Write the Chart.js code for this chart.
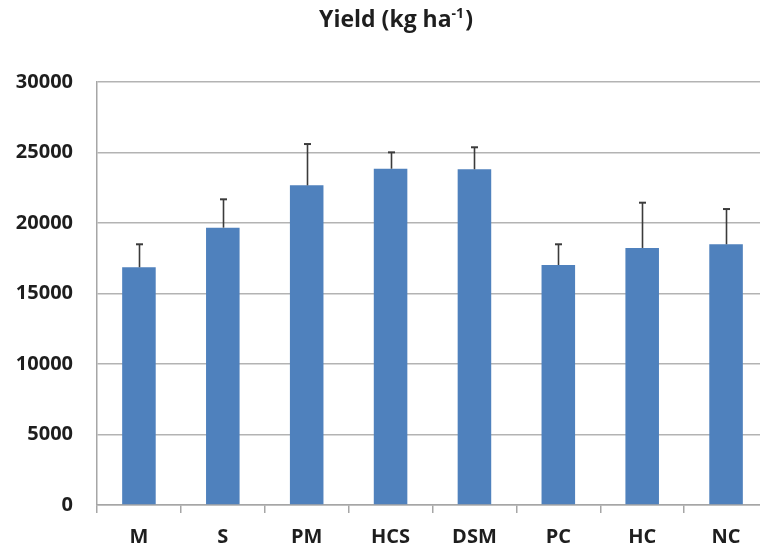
<!DOCTYPE html>
<html>
<head>
<meta charset="utf-8">
<script src="https://cdn.jsdelivr.net/npm/chart.js@4/dist/chart.umd.min.js"></script>
<style>
  html, body { margin: 0; padding: 0; background: #ffffff; overflow: hidden; }
  #wrap { width: 760px; height: 548px; overflow: hidden; position: relative; }
  canvas { display: block; }
</style>
</head>
<body>
<div id="wrap"><canvas id="chart" width="772" height="548"></canvas></div>
<script>
// Treatments and mean yield (kg/ha) with the upper standard deviation
const categories = ['M', 'S', 'PM', 'HCS', 'DSM', 'PC', 'HC', 'NC'];
const yields = [16860, 19670, 22670, 23850, 23810, 17020, 18230, 18490];
const errors = [1630, 2010, 2930, 1160, 1560, 1470, 3210, 2500];
const yTicks = [0, 5000, 10000, 15000, 20000, 25000, 30000];

const FONT = "'Open Sans', 'Liberation Sans', sans-serif";
const TEXT = '#1e1e1e';
const GRID = '#b3b3b3';
const AXIS = '#a6a6a6';

// Title with a superscript exponent
const titlePlugin = {
  id: 'yieldTitle',
  afterDraw(chart) {
    const ctx = chart.ctx;
    const main = 'Yield (kg ha';
    const sup = '-1';
    const tail = ')';
    const big = 'bold 23px ' + FONT;
    const small = 'bold 14px ' + FONT;
    ctx.save();
    ctx.fillStyle = TEXT;
    ctx.textBaseline = 'alphabetic';
    ctx.font = big;
    const w1 = ctx.measureText(main).width;
    const w3 = ctx.measureText(tail).width;
    ctx.font = small;
    const w2 = ctx.measureText(sup).width;
    const total = w1 + w2 + w3 + 1;
    let x = 396 - total / 2;
    const base = 27;
    ctx.textAlign = 'left';
    ctx.font = big;
    ctx.fillText(main, x, base);
    x += w1;
    ctx.font = small;
    ctx.fillText(sup, x, base - 9);
    x += w2 + 1;
    ctx.font = big;
    ctx.fillText(tail, x, base);
    ctx.restore();
  }
};

// Upward error bars with a small cap
const errorBarPlugin = {
  id: 'errorBars',
  afterDatasetsDraw(chart) {
    const ctx = chart.ctx;
    const meta = chart.getDatasetMeta(0);
    const yScale = chart.scales.y;
    ctx.save();
    ctx.strokeStyle = '#3b3b3b';
    meta.data.forEach((bar, i) => {
      const x = Math.round(bar.x) + 0.5;
      const yTop = yScale.getPixelForValue(yields[i] + errors[i]);
      ctx.lineWidth = 1.6;
      ctx.beginPath();
      ctx.moveTo(x, bar.y);
      ctx.lineTo(x, yTop);
      ctx.stroke();
      ctx.lineWidth = 2;
      ctx.beginPath();
      ctx.moveTo(x - 3.5, yTop);
      ctx.lineTo(x + 3.5, yTop);
      ctx.stroke();
    });
    ctx.restore();
  }
};

new Chart(document.getElementById('chart'), {
  type: 'bar',
  data: {
    labels: categories,
    datasets: [{
      data: yields,
      backgroundColor: '#4f81bd',
      borderWidth: 0,
      barPercentage: 0.4,
      categoryPercentage: 1.0
    }]
  },
  options: {
    responsive: false,
    devicePixelRatio: 1,
    animation: false,
    layout: { padding: { top: 82, left: 0, right: 4, bottom: 0 } },
    plugins: {
      legend: { display: false },
      tooltip: { enabled: false },
      title: { display: false }
    },
    scales: {
      x: {
        offset: true,
        grid: {
          offset: true,
          drawOnChartArea: false,
          drawTicks: true,
          tickLength: 8,
          color: AXIS,
          lineWidth: 1.5
        },
        border: { color: AXIS, width: 1.5 },
        ticks: {
          color: TEXT,
          font: { family: FONT, size: 20, weight: 'bold' },
          padding: 12,
          maxRotation: 0
        },
        afterFit(scale) { scale.height = 43; }
      },
      y: {
        min: 0,
        max: 30000,
        afterBuildTicks(scale) { scale.ticks = yTicks.map(v => ({ value: v })); },
        grid: {
          color: GRID,
          lineWidth: 1.5,
          drawTicks: false
        },
        border: { color: AXIS, width: 1.5 },
        ticks: {
          color: TEXT,
          font: { family: FONT, size: 20, weight: 'bold' },
          padding: 24,
          callback: v => String(v)
        },
        afterFit(scale) { scale.width = 97; }
      }
    }
  },
  plugins: [titlePlugin, errorBarPlugin]
});
</script>
</body>
</html>
